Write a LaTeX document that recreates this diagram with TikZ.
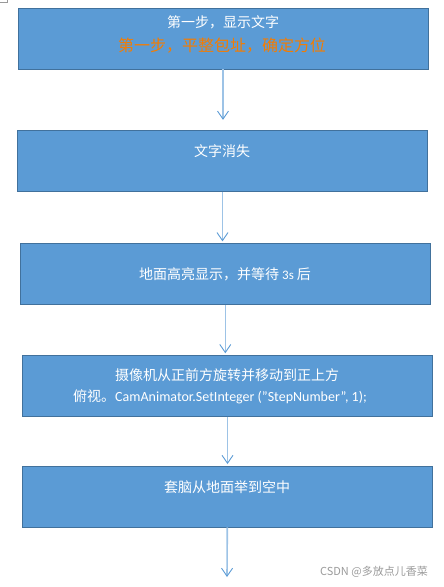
\documentclass[tikz,border=0pt]{standalone}
\usepackage{fontspec}
\setmainfont{Carlito}
\newfontfamily\zh{Noto Sans CJK SC}
\usepackage{xcolor}
\usetikzlibrary{arrows.meta}
\definecolor{stepblue}{HTML}{5B9BD5}
\definecolor{stepedge}{HTML}{41719C}
\definecolor{flowline}{HTML}{9DC3E6}
\definecolor{flowtip}{HTML}{5B9BD5}
\definecolor{noteorange}{HTML}{F57C00}
\definecolor{markgray}{HTML}{9A9A9A}

\begin{document}
\begin{tikzpicture}[x=1pt,y=-1pt,
    box/.style={draw=stepedge,fill=stepblue,line width=0.9pt,minimum width=410pt,minimum height=61pt,inner sep=0pt},
    lbl/.style={white,font=\zh\fontsize{14}{18}\selectfont,inner sep=0pt},
    flow/.style={flowline,line width=1.6pt,-{Straight Barb[length=8pt,width=11pt,line width=0.9pt,color=flowtip]}}]
    \useasboundingbox (0,0) rectangle (444,587);
    \draw[markgray,line width=0.5pt] (0,2.5) -- (7,2.5) -- (7,0);

    \node[box] (box1) at (223,38.5) {};
    \node[lbl] (txt1) at (223,22.7) {第一步，显示文字};
    \node[lbl,noteorange,font=\zh\fontsize{16}{20}\selectfont] (note1) at (222,45.7) {第一步，平整包址，确定方位};

    \node[box] (box2) at (222.5,160.8) {};
    \node[lbl] (txt2) at (222,150.7) {文字消失};

    \node[box] (box3) at (225.3,273.8) {};
    \node[lbl] (txt3) at (225,274) {地面高亮显示，并等待 {\rmfamily\fontsize{13}{15}\selectfont 3s} 后};

    \node[box] (box4) at (227.5,385.7) {};
    \node[lbl] (txt4) at (227,375) {摄像机从正前方旋转并移动到正上方};
    \node[lbl] (code4) at (220,397) {俯视。{\rmfamily\fontsize{14}{17}\selectfont CamAnimator.SetInteger ("StepNumber", 1);}};

    \node[box] (box5) at (227.3,496.5) {};
    \node[lbl] (txt5) at (227,486.7) {套脑从地面举到空中};

    \coordinate (out) at (227,577);
    \draw[flow,shorten >=10pt] (box1.south) -- (box1.south |- box2.north);
    \draw[flow,shorten >=1.5pt] (box2.south) -- (box2.south |- box3.north);
    \draw[flow,shorten >=1.5pt] (box3.south) -- (box3.south |- box4.north);
    \draw[flow,shorten >=1.5pt] (box4.south) -- (box4.south |- box5.north);
    \draw[flow] (box5.south) -- (out);

    \node[anchor=east,markgray,font=\zh\fontsize{11}{13}\selectfont,inner sep=0pt] (mark) at (428,572) {CSDN @多放点儿香菜};
\end{tikzpicture}
\end{document}
